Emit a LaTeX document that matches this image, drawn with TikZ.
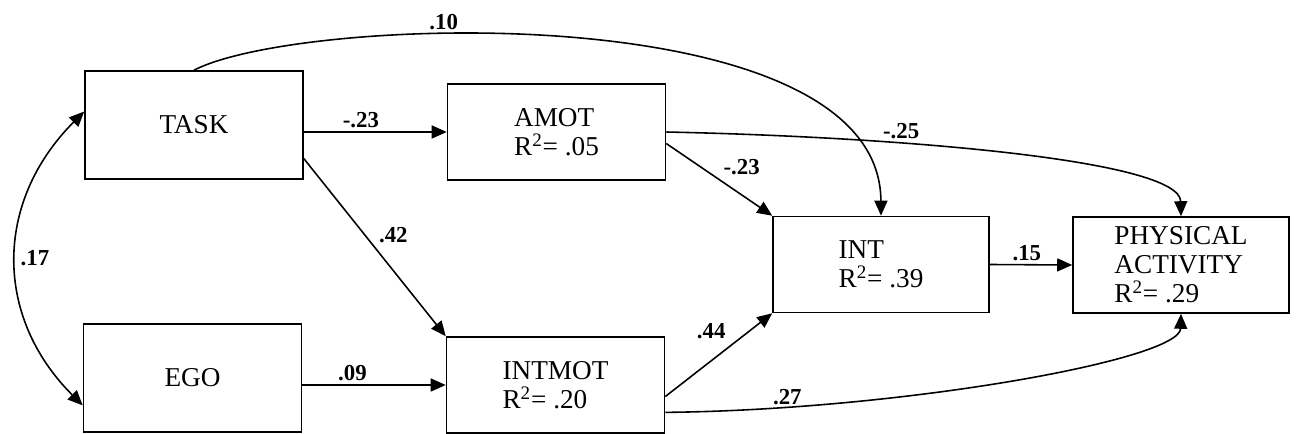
\documentclass[tikz,border=0pt]{standalone}
\usepackage{fontspec}
\setmainfont{Liberation Serif}
\usetikzlibrary{arrows.meta,positioning}

\begin{document}
\begin{tikzpicture}[
x=0.2mm, y=-0.2mm,
box/.style={draw, line width=0.9pt, minimum width=43.6mm, minimum height=19.2mm, align=left, inner sep=2pt, font=\fontsize{15.5}{16.5}\selectfont},
tall/.style={box, minimum height=21.6mm},
arr/.style={-{Triangle[length=3mm,width=2.6mm]}, line width=0.9pt},
both/.style={{Triangle[length=3mm,width=2.6mm]}-{Triangle[length=3mm,width=2.6mm]}, line width=0.9pt},
lbl/.style={font=\fontsize{13}{14}\selectfont\bfseries, inner sep=2pt}
]
\useasboundingbox (0,0) rectangle (1296,434);

% predictors
\node[tall] (task) at (194,125) {TASK};
\node[tall] (ego) at (192.5,378) {EGO};
% motivation
\node[box] (amot) at (556.5,132) {AMOT\\R\textsuperscript{2}= .05};
\node[box] (intmot) at (555.5,385) {INTMOT\\R\textsuperscript{2}= .20};
% outcomes
\node[box, minimum width=43.2mm] (int) at (881,264.5) {INT\\R\textsuperscript{2}= .39};
\node[box, minimum width=43.2mm] (pa) at (1181,265) {PHYSICAL\\ACTIVITY\\R\textsuperscript{2}= .29};

\draw[both] (task.173) to[out=225, in=135, looseness=1.1] node[lbl, right, pos=.5] {.17} (ego.194);
\draw[arr] (task.east |- amot) -- node[lbl, above, pos=.4] {-.23} (amot.west);
\draw[arr] (task.-17) -- node[lbl, above right, pos=.5] {.42} (intmot.north west);
\draw[arr] (ego.east |- intmot) -- node[lbl, above, pos=.35] {.09} (intmot.west);
\draw[arr] (task.north) .. controls (300,15) and (880,-5) .. node[lbl, above, pos=.36] {.10} (int.north);
\draw[arr] (amot.-6) -- node[lbl, above right, pos=.5] {-.23} (int.north west);
\draw[arr] (amot.east) .. controls (900,137) and (1180,160) .. node[lbl, above, pos=.33] {-.25} (pa.north);
\draw[arr] (intmot.-6) -- node[lbl, above left, pos=.62, inner sep=3pt] {.44} (int.south west);
\draw[arr] (intmot.-14) .. controls (900,410) and (1180,360) .. node[lbl, above, pos=.17, inner sep=1pt] {.27} (pa.south);
\draw[arr] (int.east) -- node[lbl, above, pos=.45] {.15} (pa.west);
\end{tikzpicture}
\end{document}
